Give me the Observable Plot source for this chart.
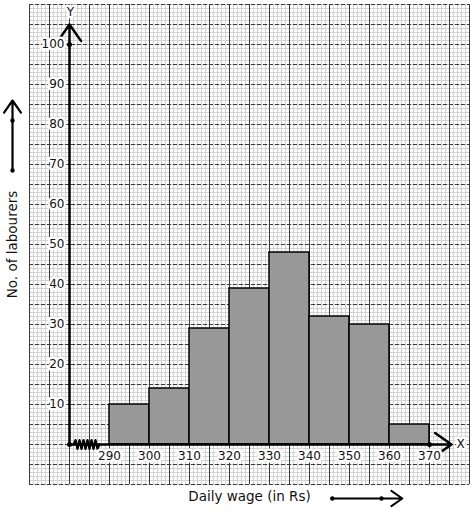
<!DOCTYPE html>
<html>
<head>
<meta charset="utf-8">
<script src="https://cdn.jsdelivr.net/npm/d3@7"></script>
<script src="https://cdn.jsdelivr.net/npm/@observablehq/plot@0.6"></script>
<style>
  html, body { margin: 0; padding: 0; background: white; }
</style>
</head>
<body>
<div id="chart"></div>
<script>
// Class intervals (lower limits), width 10, and frequencies
const lowerLimits = [290, 300, 310, 320, 330, 340, 350, 360];
const classWidth = 10;
const labourers = [10, 14, 29, 39, 48, 32, 30, 5];
const xTickLabels = [290, 300, 310, 320, 330, 340, 350, 360, 370];
const yTickLabels = [10, 20, 30, 40, 50, 60, 70, 80, 90, 100];

// graph paper extent (data units)
const paperX = [270, 380];
const paperY = [-10, 110];
const originX = 280;

const bars = lowerLimits.map((lo, i) => ({x1: lo, x2: lo + classWidth, y: labourers[i]}));

// kink (zigzag) on x-axis
const kinkX = [281, 281.5, 282, 282.5, 283, 283.5, 284, 284.5, 285, 285.5, 286, 286.5, 287, 287.5];
const kinkY = [0, 1.1, -1.1, 1.1, -1.1, 1.1, -1.1, 1.1, -1.1, 1.1, -1.1, 1.1, -1.1, 0];
const kink = kinkX.map((x, i) => ({x, y: kinkY[i]}));

const minorX = d3.range(paperX[0], paperX[1] + 1, 1);
const majorX = d3.range(paperX[0], paperX[1] + 1, 5);
const minorY = d3.range(paperY[0], paperY[1] + 1, 1);
const majorY = d3.range(paperY[0], paperY[1] + 1, 5);

// decorative scale arrows in margins
const leftArrow = {x: 265.75, y1: 68.5, y2: 86, dots: [68.5, 81]};
const bottomArrow = {y: -13.5, x1: 345.7, x2: 363.2, dots: [345.7, 358]};

const fs = 12;
const fsTitle = 13.5;
const halo = {fill: "#111", stroke: "white", strokeWidth: 5, strokeLinejoin: "round", fontSize: fs};

const chart = Plot.plot({
  width: 474,
  height: 510,
  marginLeft: 29,
  marginRight: 5,
  marginTop: 4,
  marginBottom: 26,
  x: {domain: paperX, axis: null},
  y: {domain: paperY, axis: null},
  style: {fontFamily: "DejaVu Sans", fontSize: "12px", background: "white", overflow: "visible"},
  marks: [
    Plot.ruleX(minorX, {stroke: "#d2d2d2", strokeWidth: 1}),
    Plot.ruleY(minorY, {stroke: "#d2d2d2", strokeWidth: 1}),
    Plot.ruleY(majorY, {stroke: "#3a3a3a", strokeWidth: 1, strokeDasharray: "4,2"}),
    Plot.ruleX(majorX, {stroke: "#3a3a3a", strokeWidth: 1}),
    Plot.rectY(bars, {x1: "x1", x2: "x2", y1: 0, y2: "y", fill: "#999999", stroke: "black", strokeWidth: 1.5}),
    // axes
    Plot.arrow([{x1: originX, y1: 0, x2: originX, y2: 105}], {x1: "x1", y1: "y1", x2: "x2", y2: "y2", stroke: "black", strokeWidth: 2.5, headLength: 12, headAngle: 70}),
    Plot.arrow([{x1: originX, y1: 0, x2: 375.5, y2: 0}], {x1: "x1", y1: "y1", x2: "x2", y2: "y2", stroke: "black", strokeWidth: 2.5, headLength: 12, headAngle: 70}),
    Plot.line(kink, {x: "x", y: "y", stroke: "black", strokeWidth: 2.2}),
    Plot.dot([{x: originX, y: 0}, {x: originX, y: 100}, {x: 370, y: 0}], {x: "x", y: "y", r: 2.5, fill: "black"}),
    // tick labels
    Plot.text(yTickLabels, {x: originX, y: d => d, text: d => String(d), textAnchor: "end", dx: -5, ...halo}),
    Plot.text(xTickLabels, {x: d => d, y: 0, text: d => String(d), dy: 12, ...halo}),
    Plot.text(["Y"], {x: originX, y: 108, text: d => d, dx: 1, ...halo}),
    Plot.text(["X"], {x: 376, y: 0, text: d => d, textAnchor: "start", dx: 3, ...halo}),
    // axis titles
    Plot.text(["No. of labourers"], {frameAnchor: "left", textAnchor: "middle", lineAnchor: "middle", dx: -17, rotate: -90, text: d => d, fill: "#111", fontSize: fsTitle}),
    Plot.text(["Daily wage (in Rs)"], {frameAnchor: "bottom", textAnchor: "middle", lineAnchor: "middle", dy: 12, text: d => d, fill: "#111", fontSize: fsTitle}),
    // decorative arrows
    Plot.arrow([leftArrow], {x1: "x", x2: "x", y1: "y1", y2: "y2", stroke: "black", strokeWidth: 2.2, headLength: 10, headAngle: 70}),
    Plot.dot(leftArrow.dots, {x: leftArrow.x, y: d => d, r: 2.2, fill: "black"}),
    Plot.arrow([bottomArrow], {x1: "x1", x2: "x2", y1: "y", y2: "y", stroke: "black", strokeWidth: 2, headLength: 10, headAngle: 70}),
    Plot.dot(bottomArrow.dots, {x: d => d, y: bottomArrow.y, r: 2.2, fill: "black"})
  ]
});
document.getElementById("chart").appendChild(chart);
</script>
</body>
</html>
